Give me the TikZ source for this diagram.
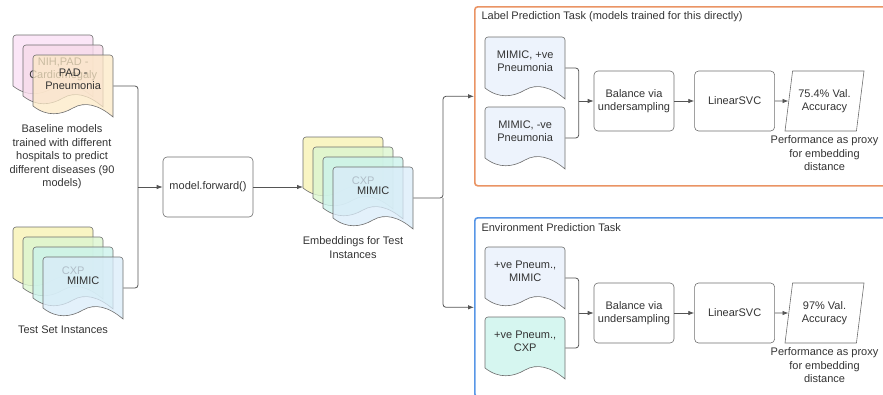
\documentclass[tikz,border=0pt]{standalone}
\usepackage{fontspec}
\setmainfont{Liberation Sans}
\usetikzlibrary{positioning,shapes.geometric,arrows.meta}

\definecolor{txt}{RGB}{51,51,51}
\definecolor{wire}{RGB}{85,85,85}
\definecolor{boxgray}{RGB}{110,110,110}
\definecolor{orangeline}{RGB}{234,148,100}
\definecolor{blueline}{RGB}{88,150,230}
\definecolor{mimicblue}{RGB}{237,243,252}
\definecolor{cxpmint}{RGB}{214,246,240}
\definecolor{sheetyellow}{RGB}{247,243,180}
\definecolor{sheetgreen}{RGB}{220,246,208}
\definecolor{sheetteal}{RGB}{204,243,236}
\definecolor{sheetblue}{RGB}{218,236,250}
\definecolor{sheetpink}{RGB}{250,224,245}
\definecolor{sheetrose}{RGB}{247,218,234}
\definecolor{sheetcream}{RGB}{252,233,198}

\tikzset{
  sheet/.style={draw=boxgray, line width=0.6pt},
  sheettext/.style={minimum width=80, minimum height=48, inner sep=0, align=center, text=txt},
  stepbox/.style={draw=boxgray, line width=0.6pt, rounded corners=4pt, minimum width=80,
    minimum height=60, align=center, text=txt},
  result/.style={trapezium, trapezium left angle=76, trapezium right angle=104,
    trapezium stretches body, draw=boxgray, line width=0.6pt, minimum width=79,
    minimum height=60, align=center, text=txt, inner xsep=0},
  taskbox/.style={line width=1.6pt, rounded corners=3pt, minimum width=420,
    minimum height=179, anchor=north west},
  wirel/.style={draw=wire, line width=0.8pt, rounded corners=3pt},
  arr/.style={wirel, -{Latex[length=6pt,width=4.5pt]}},
  caption/.style={align=center, text=txt},
}

% document sheet: name, top left corner, path options, text
\newcommand{\docsheet}[4]{%
  \path[sheet, #3, shift={#2}] (0,51) [rounded corners=3pt] -- (0,0) -- (80,0)
    [sharp corners] -- (80,62) .. controls (66,50) and (52,46) .. (40,53)
    .. controls (28,60) and (14,62) .. (0,51) -- cycle;
  \node[sheettext, anchor=north west] (#1) at #2 {#4};
  \coordinate (#1-r) at ([yshift=-31pt]#1.north east);
}

\begin{document}
\begin{tikzpicture}[x=1pt, y=-1pt, font=\fontsize{11pt}{13.5pt}\selectfont]
\clip (0,0) rectangle (883,394);

% baseline models
\docsheet{base1}{(13,35)}{fill=sheetpink, fill opacity=0.8}{}
\docsheet{base2}{(23,45)}{fill=sheetrose, fill opacity=0.8}{NIH,PAD -\\Cardiomegaly}
\docsheet{base3}{(33,55)}{fill=sheetcream, fill opacity=0.75}{PAD -\\Pneumonia}
\node[caption] (basecap) at (62,157)
  {Baseline models\\trained with different\\hospitals to predict\\different diseases (90\\models)};

% test set
\docsheet{test1}{(13,227)}{fill=sheetyellow, fill opacity=0.8}{}
\docsheet{test2}{(23,237)}{fill=sheetgreen, fill opacity=0.8}{}
\docsheet{test3}{(33,247)}{fill=sheetteal, fill opacity=0.8}{CXP}
\docsheet{test4}{(43,257)}{fill=sheetblue, fill opacity=0.75}{MIMIC}
\node[caption] (testcap) at (63,330) {Test Set Instances};

\node[stepbox, minimum width=90] (fwd) at (208,187) {model.forward()};

% embeddings
\docsheet{emb1}{(303,137)}{fill=sheetyellow, fill opacity=0.8}{}
\docsheet{emb2}{(313,147)}{fill=sheetgreen, fill opacity=0.8}{}
\docsheet{emb3}{(323,157)}{fill=sheetteal, fill opacity=0.8}{CXP}
\docsheet{emb4}{(333,167)}{fill=sheetblue, fill opacity=0.75}{MIMIC}
\node[caption] (embcap) at (353,247.5) {Embeddings for Test\\Instances};

\coordinate (inmerge) at (138,187);
\draw[wirel] (base3-r) -| (inmerge);
\draw[wirel] (test4-r) -| (inmerge);
\draw[arr] (inmerge) -- (fwd);
\draw[arr] (fwd) -- (fwd -| emb1.west);

% task boxes
\node[taskbox, draw=orangeline] (labeltask) at (474,6) {};
\node[taskbox, draw=blueline] (envtask) at (474,217) {};
\coordinate (split) at (443,198);
\draw[arr] (emb4-r) -- (split) |- (labeltask.west);
\draw[arr] (split) |- (envtask.west);

% label prediction
\node[anchor=west, text=txt] (labeltitle) at (478,17)
  {Label Prediction Task (models trained for this directly)};
\docsheet{lpos}{(485,37)}{fill=mimicblue}{MIMIC, +ve\\Pneumonia}
\docsheet{lneg}{(485,107)}{fill=mimicblue}{MIMIC, -ve\\Pneumonia}
\node[stepbox] (lbal) at (634,101) {Balance via\\undersampling};
\node[stepbox, right=20pt of lbal] (lsvc) {LinearSVC};
\node[result] (lacc) at (824.5,101) {75.4\% Val.\\Accuracy};
\node[caption, below=1pt of lacc] (lcap) {Performance as proxy\\for embedding\\distance};
\coordinate (lmerge) at ([xshift=-15pt]lbal.west);
\draw[wirel] (lpos-r) -| (lmerge);
\draw[wirel] (lneg-r) -| (lmerge);
\draw[arr] (lmerge) -- (lbal);
\draw[arr] (lbal) -- (lsvc);
\draw[arr] (lsvc) -- (lacc);

% environment prediction
\node[anchor=west, text=txt] (envtitle) at (478,228) {Environment Prediction Task};
\docsheet{epos}{(485,247)}{fill=mimicblue}{+ve Pneum.,\\MIMIC}
\docsheet{eneg}{(485,317)}{fill=cxpmint}{+ve Pneum.,\\CXP}
\node[stepbox] (ebal) at (634,313) {Balance via\\undersampling};
\node[stepbox, right=20pt of ebal] (esvc) {LinearSVC};
\node[result] (eacc) at (824.5,313) {97\% Val.\\Accuracy};
\node[caption, below=1pt of eacc] (ecap) {Performance as proxy\\for embedding\\distance};
\coordinate (emerge) at ([xshift=-15pt]ebal.west);
\draw[wirel] (epos-r) -| (emerge);
\draw[wirel] (eneg-r) -| (emerge);
\draw[arr] (emerge) -- (ebal);
\draw[arr] (ebal) -- (esvc);
\draw[arr] (esvc) -- (eacc);
\end{tikzpicture}
\end{document}
